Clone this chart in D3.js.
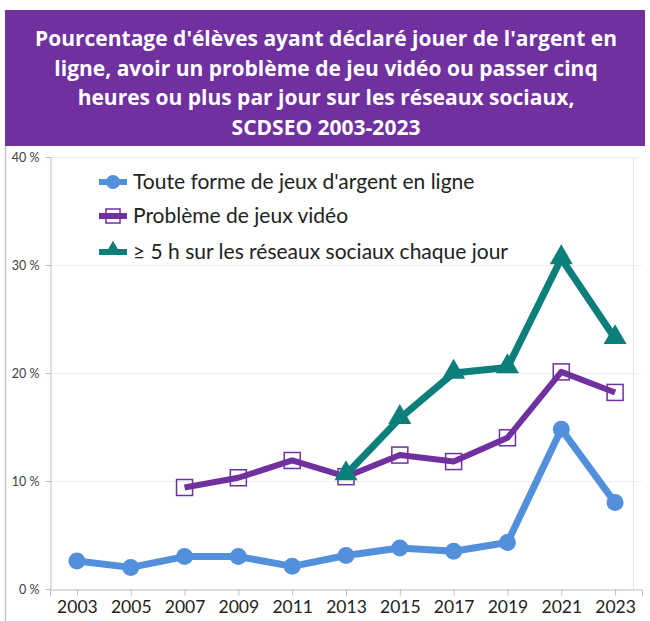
<!DOCTYPE html>
<html>
<head>
<meta charset="utf-8">
<script src="https://cdn.jsdelivr.net/npm/d3@7"></script>
<style>
body { margin: 0; background: #fff; }
svg { display: block; }
</style>
</head>
<body>
<script>
// data
const years = ['2003', '2005', '2007', '2009', '2011', '2013', '2015', '2017', '2019', '2021', '2023'];
const jeuxArgent = [2.6, 2.0, 3.0, 3.0, 2.1, 3.1, 3.8, 3.5, 4.3, 14.8, 8.0];
const jeuxVideo = [null, null, 9.4, 10.3, 11.9, 10.4, 12.4, 11.8, 14.0, 20.1, 18.2];
const reseaux = [null, null, null, null, null, 10.6, 15.8, 20.0, 20.5, 30.6, 23.2];
const yTicks = [0, 10, 20, 30, 40];
const seriesNames = [
	"Toute forme de jeux d'argent en ligne",
	'Problème de jeux vidéo',
	'≥ 5 h sur les réseaux sociaux chaque jour'
];
const titleLines = [
	"Pourcentage d'élèves ayant déclaré jouer de l'argent en",
	'ligne, avoir un problème de jeu vidéo ou passer cinq',
	'heures ou plus par jour sur les réseaux sociaux,',
	'SCDSEO 2003-2023'
];

const W = 650, H = 621;
const margin = { top: 157, bottom: 32, left: 50, right: 8 };

const blue = '#5290dc', purple = '#7030a0', teal = '#0d7f7a';

const svg = d3.select('body').append('svg')
	.attr('width', W)
	.attr('height', H);

// banner
svg.append('rect')
	.attr('x', 5).attr('y', 10)
	.attr('width', 640).attr('height', 136)
	.attr('fill', '#7030a0');
svg.append('g').selectAll('text')
	.data(titleLines)
	.enter().append('text')
	.attr('x', 326)
	.attr('y', function(d, i) { return 46 + i * 29.5; })
	.attr('text-anchor', 'middle')
	.attr('fill', '#fff')
	.style('font-family', 'Open Sans')
	.style('font-weight', 700)
	.style('font-size', '21px')
	.text(function(d) { return d; });

// chart frame
svg.append('line')
	.attr('x1', 5.5).attr('x2', 5.5).attr('y1', 146).attr('y2', H)
	.attr('stroke', '#c8c8c8').attr('stroke-width', 1.5);
svg.append('line')
	.attr('x1', 633.5).attr('x2', 633.5).attr('y1', 157).attr('y2', 589)
	.attr('stroke', '#e4e4e4');

const xScale = d3.scalePoint()
	.domain(years)
	.range([margin.left, W - margin.right])
	.padding(0.5);
const yScale = d3.scaleLinear()
	.domain([0, 40])
	.range([H - margin.bottom, margin.top]);

// grid
svg.append('g').selectAll('line')
	.data(yTicks.slice(1))
	.enter().append('line')
	.attr('x1', margin.left).attr('x2', W - margin.right)
	.attr('y1', function(d) { return yScale(d) + 0.5; })
	.attr('y2', function(d) { return yScale(d) + 0.5; })
	.attr('stroke', '#efefef');

const yAxis = d3.axisLeft(yScale)
	.tickValues(yTicks)
	.tickSize(5)
	.tickFormat(function(d) { return d + ' %'; });
const gy = svg.append('g')
	.attr('transform', 'translate(' + (margin.left + 0.5) + ',0)')
	.call(yAxis);
gy.select('.domain').attr('stroke', '#bdbdbd');
gy.selectAll('.tick line').attr('stroke', '#bdbdbd');
gy.selectAll('.tick text')
	.attr('x', -11)
	.style('font-family', 'Lato')
	.style('font-size', '12.5px')
	.attr('fill', '#404040');

const xAxis = d3.axisBottom(xScale).tickSize(6).tickSizeOuter(6);
const gx = svg.append('g')
	.attr('transform', 'translate(0,' + (yScale(0) + 0.5) + ')')
	.call(xAxis);
gx.select('.domain').attr('stroke', '#bdbdbd');
gx.selectAll('.tick line').attr('stroke', '#bdbdbd');
gx.selectAll('.tick text')
	.attr('y', 11)
	.style('font-family', 'Lato')
	.style('font-size', '17.5px')
	.attr('fill', '#222');

function draw(values, color, width) {
	const pts = years.map(function(y, i) { return { year: y, v: values[i] }; })
		.filter(function(d) { return d.v != null; });
	const line = d3.line()
		.x(function(d) { return xScale(d.year); })
		.y(function(d) { return yScale(d.v); });
	svg.append('path')
		.datum(pts)
		.attr('d', line)
		.attr('fill', 'none')
		.attr('stroke', color)
		.attr('stroke-width', width)
		.attr('stroke-linejoin', 'round');
	return pts;
}

const tri = d3.symbol().type(d3.symbolTriangle).size(230);

// blue series
const p1 = draw(jeuxArgent, blue, 7);
svg.append('g').selectAll('circle')
	.data(p1).enter().append('circle')
	.attr('cx', function(d) { return xScale(d.year); })
	.attr('cy', function(d) { return yScale(d.v); })
	.attr('r', 8.5)
	.attr('fill', blue);

// purple series
const p2 = draw(jeuxVideo, purple, 6);
svg.append('g').selectAll('rect')
	.data(p2).enter().append('rect')
	.attr('x', function(d) { return xScale(d.year) - 8; })
	.attr('y', function(d) { return yScale(d.v) - 8; })
	.attr('width', 16).attr('height', 16)
	.attr('fill', 'none')
	.attr('stroke', purple)
	.attr('stroke-width', 1.5);

// teal series
const p3 = draw(reseaux, teal, 7);
svg.append('g').selectAll('path')
	.data(p3).enter().append('path')
	.attr('d', tri)
	.attr('transform', function(d) { return 'translate(' + xScale(d.year) + ',' + (yScale(d.v) - 1) + ')'; })
	.attr('fill', teal);

// legend
const legendY = [182, 216, 252];
const legend = svg.append('g');
seriesNames.forEach(function(name, i) {
	const y = legendY[i];
	const color = [blue, purple, teal][i];
	legend.append('line')
		.attr('x1', 99).attr('x2', 127).attr('y1', y).attr('y2', y)
		.attr('stroke', color).attr('stroke-width', 6);
	if (i === 0) {
		legend.append('circle').attr('cx', 113).attr('cy', y).attr('r', 7).attr('fill', color);
	} else if (i === 1) {
		legend.append('rect').attr('x', 106).attr('y', y - 7).attr('width', 14).attr('height', 14)
			.attr('fill', 'none').attr('stroke', color).attr('stroke-width', 1.5);
	} else {
		legend.append('path').attr('d', d3.symbol().type(d3.symbolTriangle).size(110))
			.attr('transform', 'translate(113,' + (y - 2) + ')').attr('fill', color);
	}
	legend.append('text')
		.attr('x', 133)
		.attr('y', y + 7)
		.style('font-family', 'Lato')
		.style('font-size', '21px')
		.attr('fill', '#222')
		.text(name);
});
</script>
</body>
</html>
